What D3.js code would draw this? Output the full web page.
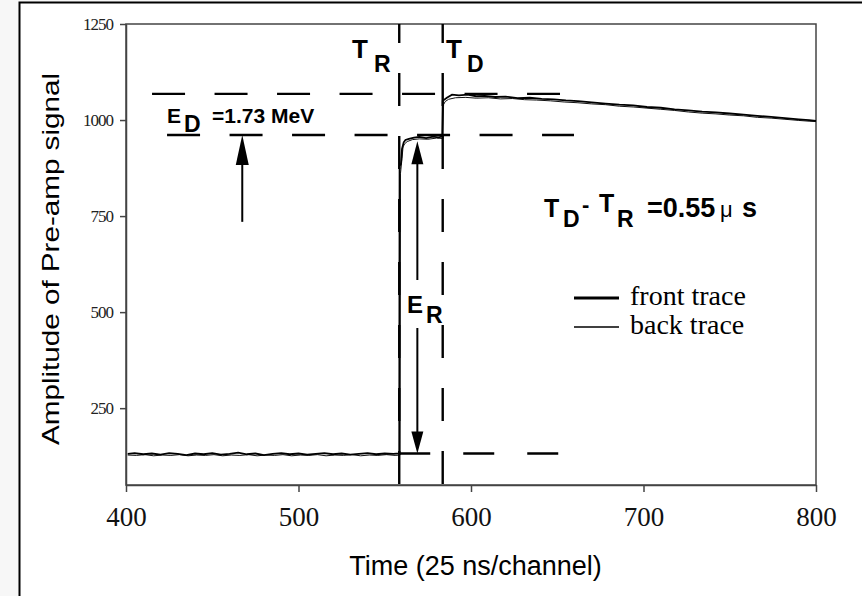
<!DOCTYPE html>
<html>
<head>
<meta charset="utf-8">
<script src="https://cdn.jsdelivr.net/npm/d3@7"></script>
<style>
  body { margin: 0; background: #f7f7f7; }
  svg { display: block; }
</style>
</head>
<body>
<div id="chart"></div>
<script>
// tick values
const xTicks = [400, 500, 600, 700, 800];
const yTicks = [250, 500, 750, 1000, 1250];

// pre-amp traces: [channel, amplitude]
const frontTrace = [
  [401,131],[405,133],[410,130],[415,132],[420,129],[425,133],[430,131],[435,128],[440,132],[445,130],
  [450,133],[455,129],[460,131],[465,134],[470,130],[475,132],[480,128],[485,131],[490,133],[495,130],
  [500,132],[505,129],[510,131],[515,133],[520,130],[525,132],[530,129],[535,131],[540,133],[545,130],
  [550,132],[555,131],[558.4,132],[558.6,880],[559.4,886],[560,925],[561,942],[562,948],[564,951],
  [567,954],[570,956],[574,953],[578,957],[581,955],[583.3,957],[583.6,1050],[586,1058],[589,1066],
  [593,1064],[598,1066],[603,1062],[608,1063],[614,1060],[620,1061],[627,1057],[634,1058],[641,1055],
  [648,1054],[655,1051],[662,1049],[670,1046],[678,1043],[686,1040],[694,1038],[702,1034],[710,1032],
  [718,1028],[726,1025],[734,1022],[742,1020],[750,1017],[758,1014],[766,1011],[774,1008],[782,1005],
  [790,1002],[796,1000],[800,998]
];
const backTrace = [
  [401,128],[406,127],[411,129],[416,126],[421,128],[426,127],[431,129],[436,126],[441,128],[446,127],
  [451,129],[456,126],[461,128],[466,127],[471,129],[476,126],[481,128],[486,127],[491,129],[496,126],
  [501,128],[506,127],[511,129],[516,126],[521,128],[526,127],[531,129],[536,126],[541,128],[546,127],
  [551,129],[556,127],[558.9,128],[559.1,860],[560,900],[560.6,930],[561.5,938],[563,944],[566,949],
  [570,951],[575,950],[580,953],[583.8,952],[584.1,1040],[585,1048],[587,1054],[591,1058],[597,1059],
  [603,1057],[610,1058],[617,1055],[624,1056],[631,1053],[638,1052],[646,1050],[654,1047],[662,1045],
  [670,1042],[678,1040],[686,1036],[694,1034],[702,1031],[710,1028],[718,1025],[726,1021],[734,1018],
  [742,1016],[750,1013],[758,1011],[766,1007],[774,1005],[782,1002],[790,999],[796,997],[800,996]
];

// annotation guides (channel / amplitude)
const tRise = 558.4;
const tDecay = 583.6;
const levelDecay = 1068;
const levelRise = 961;
const levelBase = 132;
const arrowED = [467.4, 735, 961];   // channel, from, to
const arrowER = [568.9, 945, 132];   // channel, top tip, bottom tip

const margin = { top: 24, right: 46, bottom: 111, left: 126 };
const width = 862 - margin.left - margin.right;
const height = 596 - margin.top - margin.bottom;

const root = d3.select("#chart")
  .append("svg")
  .attr("width", 862)
  .attr("height", 596);

// page frame
root.append("rect")
  .attr("x", 19.5).attr("y", 2.5)
  .attr("width", 900).attr("height", 700)
  .attr("fill", "#fff")
  .attr("stroke", "#000")
  .attr("stroke-width", 2);

const svg = root.append("g")
  .attr("transform", `translate(${margin.left},${margin.top})`);

const x = d3.scaleLinear().domain([400, 800]).range([0, width]);
const y = d3.scaleLinear().domain([50, 1250]).range([height, 0]);

// axes
const yAxis = svg.append("g")
  .call(d3.axisLeft(y).tickValues(yTicks).tickFormat(d3.format("d"))
    .tickSize(6).tickSizeOuter(0).tickPadding(7));
yAxis.selectAll("text")
  .attr("font-family", "'Liberation Serif', 'Times New Roman', serif")
  .attr("font-size", 17)
  .attr("letter-spacing", -1)
  .attr("fill", "#222");

const xAxis = svg.append("g")
  .attr("transform", `translate(0,${height})`)
  .call(d3.axisBottom(x).tickValues(xTicks).tickSize(7).tickSizeOuter(0));
xAxis.selectAll("text")
  .attr("dy", null)
  .attr("y", 41)
  .attr("font-family", "'Liberation Serif', 'Times New Roman', serif")
  .attr("font-size", 27)
  .attr("fill", "#111");

svg.selectAll(".domain, .tick line").attr("stroke", "#444").attr("stroke-width", 1.5);

svg.append("rect")
  .attr("width", width)
  .attr("height", height)
  .attr("fill", "none")
  .attr("stroke", "#444")
  .attr("stroke-width", 1.5);

// axis titles
svg.append("text")
  .attr("x", 475.5 - margin.left)
  .attr("y", 575 - margin.top)
  .attr("text-anchor", "middle")
  .attr("font-family", "'Liberation Sans', Arial, sans-serif")
  .attr("font-size", 27)
  .text("Time (25 ns/channel)");

svg.append("text")
  .attr("transform", `translate(${59 - margin.left},${445 - margin.top}) rotate(-90)`)
  .attr("font-family", "'Liberation Sans', Arial, sans-serif")
  .attr("font-size", 24)
  .attr("textLength", 372)
  .attr("lengthAdjust", "spacingAndGlyphs")
  .text("Amplitude of Pre-amp signal");

// traces
const line = d3.line().x(d => x(d[0])).y(d => y(d[1]));

svg.append("path")
  .datum(backTrace)
  .attr("fill", "none")
  .attr("stroke", "#111")
  .attr("stroke-width", 1)
  .attr("d", line);

svg.append("path")
  .datum(frontTrace)
  .attr("fill", "none")
  .attr("stroke", "#000")
  .attr("stroke-width", 1.8)
  .attr("d", line);

// dashed guides
function dashed(x1, y1, x2, y2, dash, offset) {
  svg.append("line")
    .attr("x1", x(x1)).attr("y1", y(y1))
    .attr("x2", x(x2)).attr("y2", y(y2))
    .attr("stroke", "#000")
    .attr("stroke-width", 2.4)
    .attr("stroke-dasharray", dash)
    .attr("stroke-dashoffset", offset || 0);
}
dashed(tRise, 1250, tRise, 50, "33,30", 14);
dashed(tDecay, 1250, tDecay, 50, "33,30", 14);
dashed(415.1, levelDecay, 651.6, levelDecay, "33,29.5");
dashed(423.8, levelRise, 659.7, levelRise, "33,29.5");
dashed(tRise, levelBase, 651.6, levelBase, "31,33");

// arrows
function arrowHead(cx, tipVal, dir, len, halfW) {
  const tx = x(cx), ty = y(tipVal);
  svg.append("path")
    .attr("d", `M${tx},${ty}L${tx - halfW},${ty + dir * len}L${tx + halfW},${ty + dir * len}Z`)
    .attr("fill", "#000");
}
function shaft(cx, y1px, y2px) {
  svg.append("line")
    .attr("x1", x(cx)).attr("x2", x(cx))
    .attr("y1", y1px).attr("y2", y2px)
    .attr("stroke", "#000")
    .attr("stroke-width", 2);
}
shaft(arrowED[0], y(arrowED[1]), y(arrowED[2]) + 20);
arrowHead(arrowED[0], arrowED[2], 1, 30, 6.5);

shaft(arrowER[0], y(arrowER[1]) + 15, 280 - margin.top);
shaft(arrowER[0], 328 - margin.top, y(arrowER[2]) - 15);
arrowHead(arrowER[0], arrowER[1], 1, 23, 6);
arrowHead(arrowER[0], arrowER[2], -1, 22, 6);

// labels
const sans = "'Liberation Sans', Arial, sans-serif";
function label(parts) {
  const t = svg.append("text")
    .attr("font-family", sans)
    .attr("font-weight", "bold");
  parts.forEach(p => {
    t.append("tspan")
      .attr("x", p[0] - margin.left)
      .attr("y", p[1] - margin.top)
      .attr("font-size", p[2])
      .attr("font-weight", p[4] || "bold")
      .text(p[3]);
  });
}
label([[352, 58, 26, "T"], [374, 72, 23, "R"]]);
label([[446, 58, 26, "T"], [467, 72, 23, "D"]]);
label([[167, 123, 21, "E"], [184, 132, 23, "D"], [212, 123, 21, "=1.73 MeV"]]);
label([[407, 313, 24, "E"], [426, 323, 23, "R"]]);
label([[544, 217, 25, "T"], [563, 227, 23, "D"], [582, 212, 22, "-"],
       [599, 212, 25, "T"], [617, 227, 23, "R"], [647, 217, 27, "=0.55"],
       [720, 217, 22, "\u03bc", "normal"], [742, 217, 27, "s"]]);

// legend
const serif = "'Liberation Serif', 'Times New Roman', serif";
const legend = [["front trace", 3, 298, 305], ["back trace", 1.5, 327, 334]];
legend.forEach(l => {
  svg.append("line")
    .attr("x1", 574 - margin.left).attr("x2", 619 - margin.left)
    .attr("y1", l[2] - margin.top).attr("y2", l[2] - margin.top)
    .attr("stroke", "#000")
    .attr("stroke-width", l[1]);
  svg.append("text")
    .attr("x", 630 - margin.left)
    .attr("y", l[3] - margin.top)
    .attr("font-family", serif)
    .attr("font-size", 28)
    .text(l[0]);
});
</script>
</body>
</html>
